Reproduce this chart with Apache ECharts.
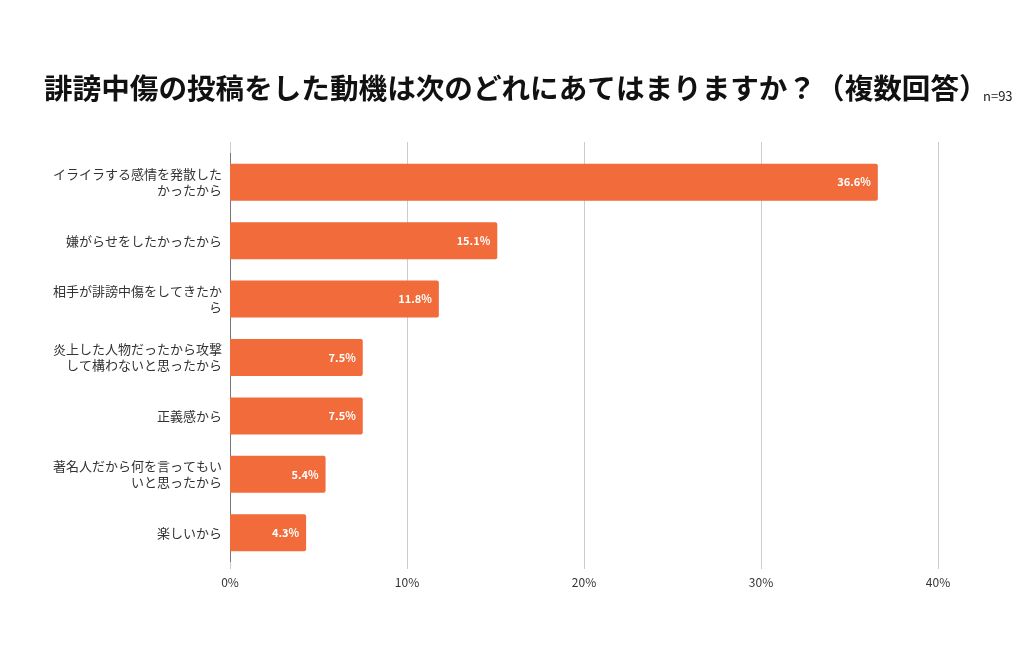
<!DOCTYPE html>
<html>
<head>
<meta charset="utf-8">
<script src="https://cdn.jsdelivr.net/npm/echarts@6/dist/echarts.min.js"></script>
<style>
  html, body { margin: 0; padding: 0; background: #fff; }
  #chart { width: 1024px; height: 653px; }
</style>
</head>
<body>
<div id="chart"></div>
<script>
// 回答項目（上から順）
const categories = [
  "イライラする感情を発散した\nかったから",
  "嫌がらせをしたかったから",
  "相手が誹謗中傷をしてきたか\nら",
  "炎上した人物だったから攻撃\nして構わないと思ったから",
  "正義感から",
  "著名人だから何を言ってもい\nいと思ったから",
  "楽しいから"
];
const values = [36.6, 15.1, 11.8, 7.5, 7.5, 5.4, 4.3];
const xTicks = [0, 10, 20, 30, 40];

const titleText = "誹謗中傷の投稿をした動機は次のどれにあてはまりますか？（複数回答）";
const nText = "n=93";

const font = "'Noto Sans CJK JP', 'Noto Sans', sans-serif";
const barColor = "#F26B3A";

const chart = echarts.init(document.getElementById("chart"));

const option = {
  backgroundColor: "#fff",
  animation: false,
  title: [
    {
      text: titleText,
      left: 39,
      top: 69,
      textStyle: { fontSize: 28.6, fontWeight: "bold", color: "#111", fontFamily: font }
    },
    {
      text: nText,
      left: 978,
      top: 85,
      textStyle: { fontSize: 13, fontWeight: "normal", color: "#222", fontFamily: font }
    }
  ],
  grid: {
    left: 230,
    right: 86,
    top: 153,
    height: 409,
    containLabel: false
  },
  xAxis: [
    {
      type: "value",
      min: xTicks[0],
      max: xTicks[xTicks.length - 1],
      interval: 10,
      axisLine: { show: false },
      axisTick: { show: true, length: 7, lineStyle: { color: "#ccc" } },
      axisLabel: {
        formatter: v => v + "%",
        color: "#333",
        fontSize: 12,
        fontFamily: font,
        margin: 14
      },
      splitLine: { show: true, lineStyle: { color: "#ccc", width: 1 } }
    },
    {
      // 上にはみ出すグリッド線用
      type: "value",
      position: "top",
      min: xTicks[0],
      max: xTicks[xTicks.length - 1],
      interval: 10,
      axisLine: { show: false },
      axisTick: { show: true, length: 11, lineStyle: { color: "#ccc" } },
      axisLabel: { show: false },
      splitLine: { show: false }
    }
  ],
  yAxis: {
    type: "category",
    data: categories,
    inverse: true,
    axisLine: { show: true, lineStyle: { color: "#777", width: 1 } },
    axisTick: { show: false },
    axisLabel: {
      color: "#333",
      fontSize: 13,
      fontFamily: font,
      lineHeight: 16,
      align: "right",
      margin: 8
    }
  },
  series: [
    {
      type: "bar",
      data: values,
      barWidth: 37,
      itemStyle: { color: barColor, borderRadius: [0, 2, 2, 0] },
      label: {
        show: true,
        position: "insideRight",
        formatter: p => p.value.toFixed(1) + "%",
        color: "#fff",
        fontWeight: "bold",
        fontSize: 11,
        fontFamily: font,
        offset: [-2, 0]
      }
    }
  ]
};

chart.setOption(option);
</script>
</body>
</html>
